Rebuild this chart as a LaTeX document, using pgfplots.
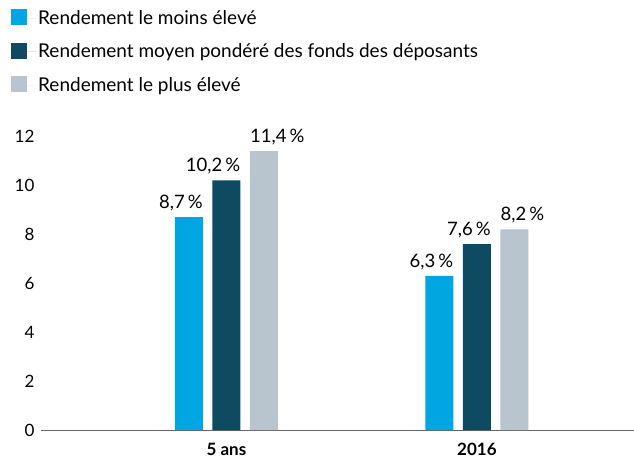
\documentclass[border=0pt]{standalone}
\usepackage{pgfplots}
\pgfplotsset{compat=1.18}
\usepackage{fontspec}
\setmainfont{Lato}
\definecolor{cblue}{HTML}{00A6E1}
\definecolor{cdark}{HTML}{0E4A62}
\definecolor{cgray}{HTML}{B8C5CE}
\definecolor{caxis}{HTML}{666666}
\begin{document}
\begin{tikzpicture}
\useasboundingbox (-41pt,-34pt) rectangle (593pt,430pt);
\begin{axis}[
  at={(0pt,0pt)}, anchor=south west,
  scale only axis,
  width=593pt, height=293.6pt,
  xmin=-0.74, xmax=1.627,
  ymin=0, ymax=12,
  ybar=9.5pt, bar width=28pt,
  axis x line*=bottom,
  axis y line*=left,
  x axis line style={caxis, line width=0.8pt, -},
  y axis line style={draw=none},
  xtick={0,1}, xticklabels={5 ans,2016},
  xtick style={draw=none},
  ytick style={draw=none},
  xticklabel style={font=\fontsize{17}{19}\selectfont\bfseries, yshift=-5pt},
  ytick={0,2,4,6,8,10,12},
  yticklabel style={font=\fontsize{17}{19}\selectfont, anchor=east, xshift=-3pt},
  clip=false,
  /pgf/number format/assume math mode=true,
  legend style={at={(-0.0506,1.437)}, anchor=north west, draw=none, fill=none,
    font=\fontsize{19}{21}\selectfont, row sep=14pt, inner xsep=0pt, inner ysep=0pt},
  legend cell align=left,
  legend image code/.code={\fill[#1] (0pt,-7pt) rectangle (16pt,9pt); \path (0pt,0pt) -- (25pt,0pt);},
  nodes near coords={\pgfmathprintnumber[fixed, fixed zerofill, precision=1, use comma]{\pgfplotspointmeta}\,\%},
  every node near coord/.append style={font=\fontsize{18.5}{21}\selectfont, color=black, inner xsep=0pt, inner ysep=0pt, yshift=6pt},
]
\addplot[fill=cblue, draw=none, nodes near coords style={anchor=south east, xshift=14pt}] coordinates {(0,8.7) (1,6.3)};
\addplot[fill=cdark, draw=none, nodes near coords style={anchor=south east, xshift=14pt}] coordinates {(0,10.2) (1,7.6)};
\addplot[fill=cgray, draw=none, nodes near coords style={anchor=south west, xshift=-14pt}] coordinates {(0,11.4) (1,8.2)};
\legend{Rendement le moins élevé, Rendement moyen pondéré des fonds des déposants, Rendement le plus élevé}
\end{axis}
\end{tikzpicture}
\end{document}
